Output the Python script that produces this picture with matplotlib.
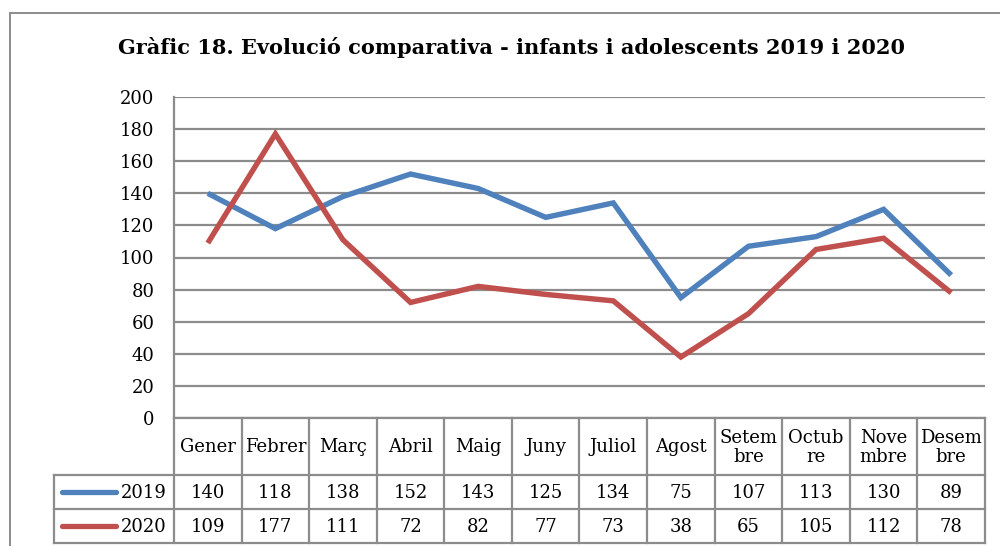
import matplotlib
matplotlib.use("Agg")
import matplotlib.pyplot as plt
from matplotlib.transforms import blended_transform_factory
from matplotlib.lines import Line2D

months = ["Gener", "Febrer", "Març", "Abril", "Maig", "Juny", "Juliol",
          "Agost", "Setem\nbre", "Octub\nre", "Nove\nmbre", "Desem\nbre"]
series_names = ["2019", "2020"]
values_2019 = [140, 118, 138, 152, 143, 125, 134, 75, 107, 113, 130, 89]
values_2020 = [109, 177, 111, 72, 82, 77, 73, 38, 65, 105, 112, 78]
colors = ["#4F81BD", "#C0504D"]
title = "Gràfic 18. Evolució comparativa - infants i adolescents 2019 i 2020"

W, H = 1000, 546
FONT = "DejaVu Serif"
GRID = "#8c8c8c"


def fx(px):
    return px / W


def fy(px):
    return 1 - px / H


fig = plt.figure(figsize=(W / 100, H / 100), dpi=100)
ax = fig.add_axes([fx(174), fy(418), fx(985) - fx(174), fy(97) - fy(418)])

x = list(range(len(months)))
for vals, c in zip([values_2019, values_2020], colors):
    ax.plot(x, vals, color=c, lw=3.9, solid_joinstyle="miter", solid_capstyle="butt", zorder=3)

ax.set_xlim(-0.5, len(months) - 0.5)
ax.set_ylim(0, 200)
ax.set_yticks(range(0, 201, 20))
ax.set_xticks([])
ax.grid(axis="y", color=GRID, lw=1.6)
ax.set_axisbelow(True)
for s in ["top", "right", "bottom"]:
    ax.spines[s].set_visible(False)
ax.spines["left"].set_color(GRID)
ax.spines["left"].set_linewidth(1.6)
ax.tick_params(axis="y", length=0, pad=14, labelsize=13)
for lab in ax.get_yticklabels():
    lab.set_fontfamily(FONT)

# title
fig.text(fx(511), fy(48), title, ha="center", va="center", fontsize=15,
         fontweight="bold", family=FONT)

# outer chart frame
fig.add_artist(Line2D([fx(10), fx(1000)], [fy(13), fy(13)], color=GRID, lw=1.4))
fig.add_artist(Line2D([fx(10), fx(10)], [fy(13), fy(546)], color=GRID, lw=1.4))

# data table below the axis
blend = blended_transform_factory(ax.transData, fig.transFigure)
y_head_top, y_head_bot, y_r1, y_r2 = 418, 475, 509, 543
tkw = dict(color=GRID, lw=1.6, clip_on=False)

ax.plot([-0.5, len(months) - 0.5], [fy(y_head_top)] * 2, transform=blend, **tkw)
for yy in [y_head_bot, y_r1, y_r2]:
    fig.add_artist(Line2D([fx(54), fx(985)], [fy(yy)] * 2, color=GRID, lw=1.6))
for i in range(len(months) + 1):
    ax.plot([i - 0.5, i - 0.5], [fy(y_head_top), fy(y_r2)], transform=blend, **tkw)
fig.add_artist(Line2D([fx(54), fx(54)], [fy(y_head_bot), fy(y_r2)], color=GRID, lw=1.6))

for i, m in enumerate(months):
    ax.text(i, fy((y_head_top + y_head_bot) / 2 + 1), m, transform=blend, ha="center",
            va="center", fontsize=13, family=FONT, linespacing=1.1)
    ax.text(i, fy((y_head_bot + y_r1) / 2 + 1), str(values_2019[i]), transform=blend,
            ha="center", va="center", fontsize=13, family=FONT)
    ax.text(i, fy((y_r1 + y_r2) / 2 + 1), str(values_2020[i]), transform=blend,
            ha="center", va="center", fontsize=13, family=FONT)

for (top, bot), name, c in zip([(y_head_bot, y_r1), (y_r1, y_r2)], series_names, colors):
    yc = fy((top + bot) / 2)
    fig.add_artist(Line2D([fx(62), fx(116)], [yc, yc], color=c, lw=3.8, solid_capstyle="round"))
    fig.text(fx(167), yc - 1 / H, name, ha="right", va="center", fontsize=13, family=FONT)

fig.savefig("out.png", dpi=100)
